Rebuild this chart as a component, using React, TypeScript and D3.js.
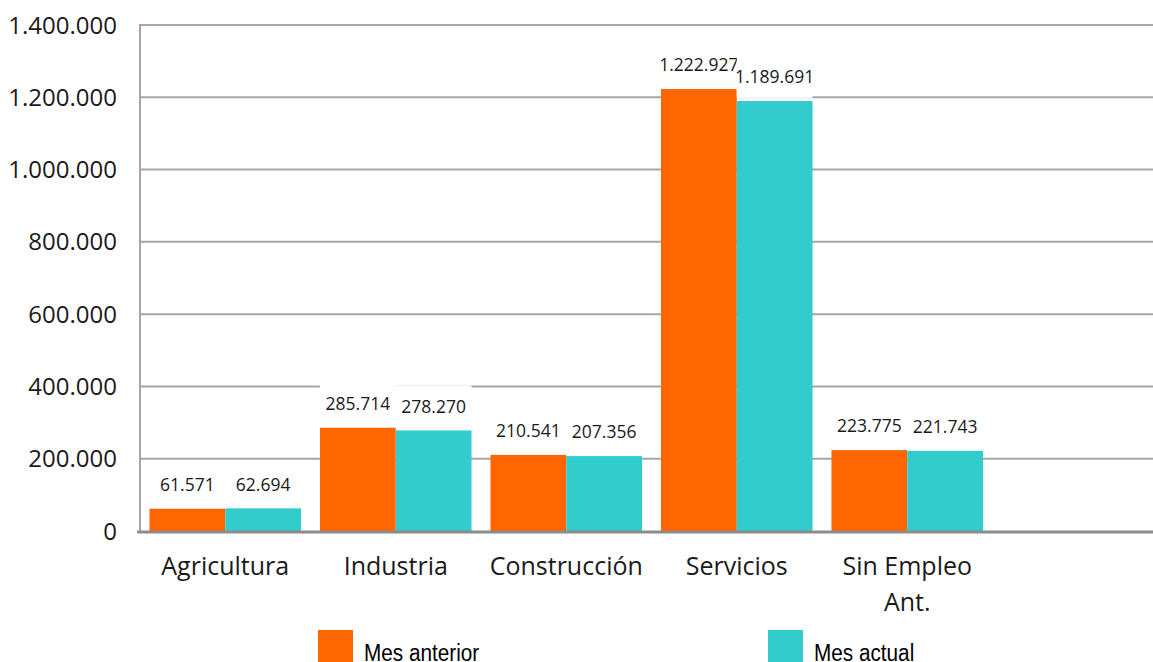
import React from "react";
import * as d3 from "d3";

const categories = ["Agricultura", "Industria", "Construcción", "Servicios", "Sin Empleo\nAnt.", ""];
const mesAnterior = [61571, 285714, 210541, 1222927, 223775];
const mesActual = [62694, 278270, 207356, 1189691, 221743];
const yTicks = [0, 200000, 400000, 600000, 800000, 1000000, 1200000, 1400000];
const seriesNames = ["Mes anterior", "Mes actual"];
const colors = ["#FF6600", "#33CCCC"];

const W = 1153, H = 662;
const left = 140, right = 1163, top = 25, bottom = 531;

const fmt = (v: number) => {
  const s = Math.round(v).toString();
  return s.replace(/\B(?=(\d{3})+(?!\d))/g, ".");
};

export default function App() {
  const x = d3.scaleBand<string>().domain(categories.map((c, i) => String(i))).range([left, right]).paddingInner(0).paddingOuter(0);
  const y = d3.scaleLinear().domain([0, 1400000]).range([bottom, top]);
  const inner = d3.scaleBand<string>().domain(["0", "1"]).range([0, x.bandwidth()]).paddingInner(0).paddingOuter(0.125);
  const series = [mesAnterior, mesActual];
  const font = "'Open Sans', 'Segoe UI', sans-serif";

  return (
    <svg width={W} height={H} style={{ position: "absolute", left: 0, top: 0, background: "#fff" }}>
      {yTicks.filter(t => t > 0).map(t => (
        <line key={t} x1={left} x2={W} y1={y(t)} y2={y(t)} stroke="#a6a6a6" strokeWidth={2} />
      ))}
      <line x1={left} x2={left} y1={top - 1} y2={bottom} stroke="#a6a6a6" strokeWidth={2} />
      {yTicks.map(t => (
        <text key={t} x={117} y={y(t)} dy="0.36em" textAnchor="end" fontFamily={font} fontSize={24} fill="#1a1a1a">{fmt(t)}</text>
      ))}
      {series.map((vals, si) => vals.map((v, i) => (
        <rect key={`${si}-${i}`} x={(x(String(i)) as number) + (inner(String(si)) as number)} y={y(v)}
          width={inner.bandwidth()} height={bottom - y(v)} fill={colors[si]} />
      )))}
      <line x1={137} x2={W} y1={bottom + 1} y2={bottom + 1} stroke="#8c8c8c" strokeWidth={3} />
      {series.map((vals, si) => vals.map((v, i) => {
        const bx = (x(String(i)) as number) + (inner(String(si)) as number);
        const cx = bx + inner.bandwidth() / 2;
        const ly = y(v) - 24;
        return (
          <g key={`l${si}-${i}`}>
            <rect x={bx} y={ly - 21} width={inner.bandwidth()} height={42} fill="#fff" />
            <text x={cx} y={ly} dy="0.36em" textAnchor="middle" fontFamily={font} fontSize={17.5} fill="#1a1a1a">{fmt(v)}</text>
          </g>
        );
      }))}
      {categories.map((c, i) => c ? (
        <text key={i} x={(x(String(i)) as number) + x.bandwidth() / 2} y={566} textAnchor="middle" fontFamily={font} fontSize={25} fill="#1a1a1a">
          {c.split("\n").map((line, li) => (
            <tspan key={li} x={(x(String(i)) as number) + x.bandwidth() / 2} dy={li === 0 ? "0.36em" : 36}>{line}</tspan>
          ))}
        </text>
      ) : null)}
      {seriesNames.map((n, si) => {
        const lx = si === 0 ? 318 : 768;
        return (
          <g key={n}>
            <rect x={lx} y={630} width={35} height={32} fill={colors[si]} />
            <text transform={`translate(${lx + 46},661) scale(0.89,1)`} fontFamily="'Liberation Sans Narrow', 'Arial Narrow', 'Liberation Sans', sans-serif" fontSize={23.3} fill="#000">{n}</text>
          </g>
        );
      })}
    </svg>
  );
}
